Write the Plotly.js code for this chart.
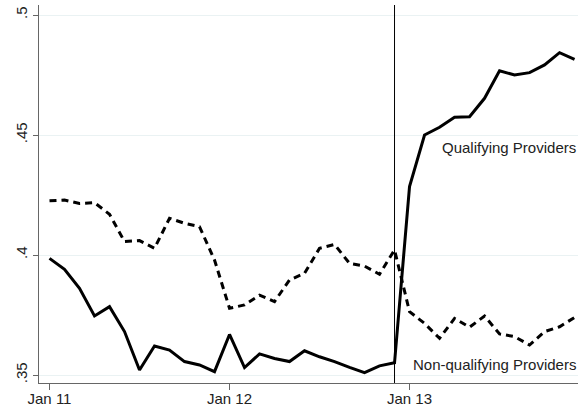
<!DOCTYPE html>
<html><head><meta charset="utf-8">
<script src="https://cdn.plot.ly/plotly-3.0.1.min.js"></script>
<style>html,body{margin:0;padding:0;background:#fff}#chart{width:582px;height:413px}</style>
</head><body><div id="chart"></div>
<script>
const months = ["Jan 11","Feb 11","Mar 11","Apr 11","May 11","Jun 11","Jul 11","Aug 11","Sep 11","Oct 11","Nov 11","Dec 11",
"Jan 12","Feb 12","Mar 12","Apr 12","May 12","Jun 12","Jul 12","Aug 12","Sep 12","Oct 12","Nov 12","Dec 12",
"Jan 13","Feb 13","Mar 13","Apr 13","May 13","Jun 13","Jul 13","Aug 13","Sep 13","Oct 13","Nov 13","Dec 13"];
const qualifying = [0.3986,0.3940,0.3861,0.3746,0.3785,0.3681,0.3521,0.3621,0.3604,0.3556,0.3542,0.3514,
0.3669,0.3531,0.3588,0.3569,0.3556,0.3601,0.3576,0.3556,0.3532,0.3510,0.3538,0.3551,
0.4285,0.4500,0.4532,0.4574,0.4576,0.4653,0.4768,0.4750,0.4760,0.4792,0.4843,0.4815];
const nonQualifying = [0.4226,0.4229,0.4215,0.4218,0.4170,0.4056,0.4060,0.4028,0.4153,0.4132,0.4118,0.3979,
0.3778,0.3792,0.3833,0.3806,0.3896,0.3924,0.4028,0.4044,0.3965,0.3954,0.3920,0.4021,
0.3764,0.3715,0.3653,0.3736,0.3699,0.3746,0.3671,0.3660,0.3625,0.3681,0.3701,0.3740];
const xTicks = ["Jan 11","Jan 12","Jan 13"];
const yTicks = [0.35,0.4,0.45,0.5];
const yTickText = [".35",".4",".45",".5"];
const policyMonth = "Dec 12";
const labelQ = "Qualifying Providers";
const labelN = "Non-qualifying Providers";

const font = {family: "Liberation Sans, Arial, sans-serif", size: 15, color: "#222"};
const traces = [
  {x: months, y: qualifying, type: "scatter", mode: "lines", line: {color: "#000", width: 3}, hoverinfo: "skip"},
  {x: months, y: nonQualifying, type: "scatter", mode: "lines", line: {color: "#000", width: 3, dash: "7px,5px"}, hoverinfo: "skip"}
];
const layout = {
  width: 582, height: 413,
  margin: {l: 39, r: 4, t: 5, b: 30},
  paper_bgcolor: "#fff", plot_bgcolor: "#fff",
  showlegend: false,
  font: font,
  xaxis: {type: "category", categoryorder: "array", categoryarray: months,
    range: [-0.7, 35.23], tickmode: "array", tickvals: xTicks, ticktext: xTicks,
    showgrid: false, zeroline: false, showline: true, linecolor: "#666", linewidth: 1,
    ticks: "outside", ticklen: 6, tickcolor: "#666", tickfont: font, ticklabelstandoff: -4},
  yaxis: {range: [0.34667, 0.50417], tickmode: "array", tickvals: yTicks, ticktext: yTickText,
    tickangle: -90, showgrid: true, gridcolor: "#eaf2f3", gridwidth: 1, zeroline: false,
    showline: true, linecolor: "#666", linewidth: 1, ticks: "outside", ticklen: 5, tickcolor: "#666", tickfont: font},
  shapes: [{type: "line", xref: "x", yref: "paper", x0: policyMonth, x1: policyMonth, y0: 0, y1: 1,
    line: {color: "#000", width: 1}}],
  annotations: [
    {xref: "paper", yref: "y", x: 1, y: 0.4448, text: labelQ, showarrow: false, xanchor: "right", yanchor: "middle", font: font},
    {xref: "paper", yref: "y", x: 1, y: 0.3542, text: labelN, showarrow: false, xanchor: "right", yanchor: "middle", font: font}
  ]
};
Plotly.newPlot("chart", traces, layout, {displayModeBar: false, staticPlot: true});
</script></body></html>
